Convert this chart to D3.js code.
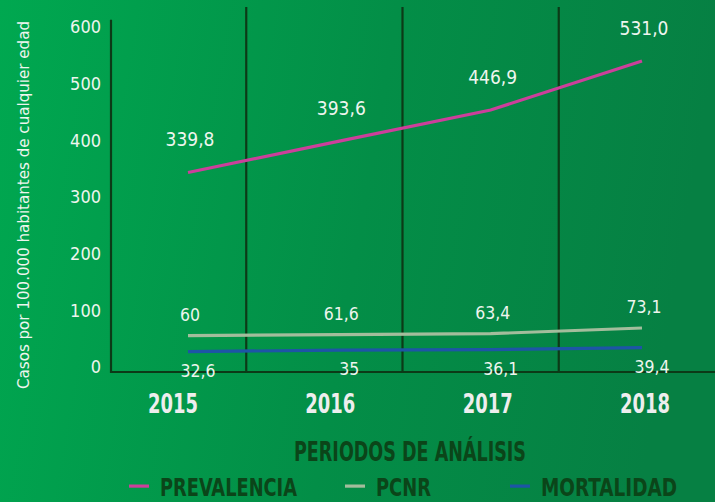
<!DOCTYPE html>
<html>
<head>
<meta charset="utf-8">
<script src="https://cdn.jsdelivr.net/npm/d3@7"></script>
<style>
  html, body { margin: 0; padding: 0; background: #049248; }
  svg { display: block; }
</style>
</head>
<body>
<div id="chart"></div>
<script>
(function () {

    // data
    const years = ["2015", "2016", "2017", "2018"];
    const prevalencia = [339.8, 393.6, 446.9, 531.0];
    const pcnr = [60, 61.6, 63.4, 73.1];
    const mortalidad = [32.6, 35, 36.1, 39.4];
    const prevalenciaLabels = ["339,8", "393,6", "446,9", "531,0"];
    const pcnrLabels = ["60", "61,6", "63,4", "73,1"];
    const mortalidadLabels = ["32,6", "35", "36,1", "39,4"];
    const yTicks = [0, 100, 200, 300, 400, 500, 600];
    const seriesNames = ["PREVALENCIA", "PCNR", "MORTALIDAD"];

    const width = 715;
    const height = 502;
    const narrow = "'Liberation Sans Narrow', 'Arial Narrow', 'DejaVu Sans Condensed', sans-serif";

    const svg = d3.select("#chart")
        .append("svg")
        .attr("width", width)
        .attr("height", height);

    // background gradient
    const defs = svg.append("defs");
    const grad = defs.append("linearGradient")
        .attr("id", "bg")
        .attr("x1", 0).attr("y1", 0)
        .attr("x2", 1).attr("y2", 0.12);
    grad.append("stop").attr("offset", "0%").attr("stop-color", "#00a850");
    grad.append("stop").attr("offset", "55%").attr("stop-color", "#038e47");
    grad.append("stop").attr("offset", "100%").attr("stop-color", "#068043");

    svg.append("rect")
        .attr("width", width)
        .attr("height", height)
        .attr("fill", "url(#bg)");

    // scales
    const y = d3.scaleLinear().domain([0, 600]).range([370.6, 20.8]);
    const yLabel = d3.scaleLinear().domain([0, 600]).range([367, 27]); // tick labels sit a bit off the grid
    const xBand = d3.scaleBand().domain(years).range([90, 715]);
    const xPoint = d3.scalePoint().domain(years).range([188, 642]);
    const xYear = d3.scalePoint().domain(years).range([173, 645]);

    const axisX = 111;
    const baseY = y(0) + 1.4;
    const frameColor = "#0c3a17";

    // frame: baseline, left axis, separators
    svg.append("line")
        .attr("x1", axisX).attr("x2", width)
        .attr("y1", baseY).attr("y2", baseY)
        .attr("stroke", frameColor).attr("stroke-width", 2.2);

    svg.append("line")
        .attr("x1", axisX).attr("x2", axisX)
        .attr("y1", y(600) - 1).attr("y2", baseY + 1)
        .attr("stroke", frameColor).attr("stroke-width", 2.2);

    svg.selectAll("line.sep")
        .data(years.slice(1))
        .enter()
        .append("line")
        .attr("class", "sep")
        .attr("x1", d => xBand(d)).attr("x2", d => xBand(d))
        .attr("y1", 7).attr("y2", baseY + 1)
        .attr("stroke", frameColor).attr("stroke-width", 2.2);

    // y axis labels
    const yAxis = svg.append("g")
        .attr("transform", `translate(${axisX},0)`)
        .call(d3.axisLeft(yLabel).tickValues(yTicks).tickSize(0).tickPadding(10));
    yAxis.select(".domain").remove();
    yAxis.selectAll(".tick text")
        .attr("fill", "#eef5ee")
        .style("font-family", narrow)
        .style("font-size", "18px");

    // y axis title
    svg.append("text")
        .attr("transform", "translate(29,205) rotate(-90)")
        .attr("text-anchor", "middle")
        .attr("fill", "#eef5ee")
        .attr("textLength", 368)
        .attr("lengthAdjust", "spacingAndGlyphs")
        .style("font-family", narrow)
        .style("font-size", "16px")
        .text("Casos por 100.000 habitantes de cualquier edad");

    // year labels
    svg.selectAll("text.year")
        .data(years)
        .enter()
        .append("text")
        .attr("class", "year")
        .attr("x", d => xYear(d))
        .attr("y", 413)
        .attr("text-anchor", "middle")
        .attr("fill", "#eeeeee")
        .attr("textLength", 50)
        .attr("lengthAdjust", "spacingAndGlyphs")
        .style("font-family", narrow)
        .style("font-weight", "bold")
        .style("font-size", "26px")
        .text(d => d);

    // series
    const series = [
        { name: seriesNames[0], values: prevalencia, labels: prevalenciaLabels, color: "#cc3f9b", dx: 2, dy: -26, size: 19 },
        { name: seriesNames[1], values: pcnr, labels: pcnrLabels, color: "#a3bd9c", dx: 2, dy: -15, size: 17.5 },
        { name: seriesNames[2], values: mortalidad, labels: mortalidadLabels, color: "#1d55a6", dx: 10, dy: 25, size: 17.5 }
    ];

    const line = d3.line()
        .x((d, i) => xPoint(years[i]))
        .y(d => y(d));

    series.forEach(s => {
        svg.append("path")
            .datum(s.values)
            .attr("fill", "none")
            .attr("stroke", s.color)
            .attr("stroke-width", 3.2)
            .attr("d", line);

        svg.selectAll(null)
            .data(s.values)
            .enter()
            .append("text")
            .attr("x", (d, i) => xPoint(years[i]) + s.dx)
            .attr("y", d => y(d) + s.dy)
            .attr("text-anchor", "middle")
            .attr("fill", "#eef5ee")
            .style("font-family", narrow)
            .style("font-size", s.size + "px")
            .text((d, i) => s.labels[i]);
    });

    // x axis title
    svg.append("text")
        .attr("x", 410)
        .attr("y", 461)
        .attr("text-anchor", "middle")
        .attr("fill", "#0b4519")
        .attr("textLength", 232)
        .attr("lengthAdjust", "spacingAndGlyphs")
        .style("font-family", narrow)
        .style("font-weight", "bold")
        .style("font-size", "27px")
        .text("PERIODOS DE ANÁLISIS");

    // legend
    const legendX = [129, 345, 510];
    const legendWidths = [137, 55, 136];
    const legend = svg.selectAll("g.legend")
        .data(series)
        .enter()
        .append("g")
        .attr("class", "legend")
        .attr("transform", (d, i) => `translate(${legendX[i]},486)`);

    legend.append("rect")
        .attr("x", 0).attr("y", -1.5)
        .attr("width", 20).attr("height", 3.2)
        .attr("fill", d => d.color);

    legend.append("text")
        .attr("x", 31)
        .attr("y", 10)
        .attr("fill", "#0b4519")
        .attr("textLength", (d, i) => legendWidths[i])
        .attr("lengthAdjust", "spacingAndGlyphs")
        .style("font-family", narrow)
        .style("font-weight", "bold")
        .style("font-size", "25px")
        .text(d => d.name);

})();
</script>
</body>
</html>
